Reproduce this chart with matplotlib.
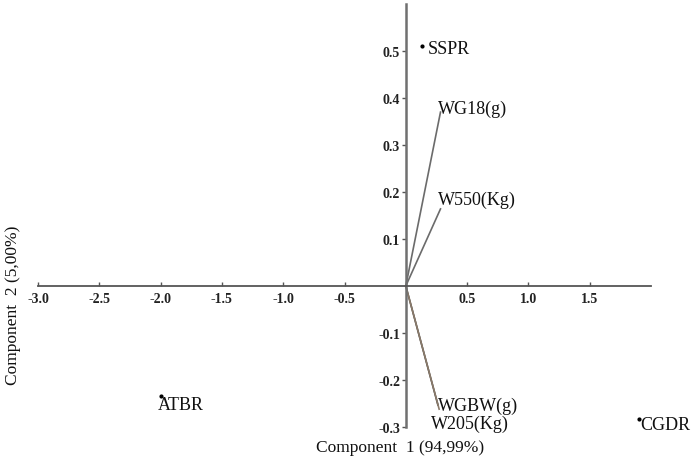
import matplotlib.pyplot as plt

plt.rcParams["font.family"] = ["Liberation Serif", "DejaVu Serif"]

# variable loadings (lines from the origin)
var_names = ["WG18(g)", "W550(Kg)", "WGBW(g)", "W205(Kg)"]
var_x = [0.283, 0.283, 0.262, 0.272]
var_y = [0.370, 0.164, -0.253, -0.262]
var_colors = ["#6b6b6b", "#6b6b6b", "#3a3a3a", "#8a7a6a"]
var_offsets = [(-3, 4), (-3, 10), (0, 0), (-8, -14)]  # pixels

# observation scores (dots)
obs_names = ["SSPR", "ATBR", "CGDR"]
obs_x = [0.136, -2.0, 1.90]
obs_y = [0.511, -0.233, -0.283]
obs_offsets = [(5, -3), (-3, -9), (2, -5)]

x_ticks = [-3.0, -2.5, -2.0, -1.5, -1.0, -0.5, 0.5, 1.0, 1.5]
y_ticks = [-0.3, -0.2, -0.1, 0.1, 0.2, 0.3, 0.4, 0.5]

fig = plt.figure(figsize=(7, 4.64), dpi=100)
ax = fig.add_axes([38 / 700, 36 / 464, 613 / 700, 423 / 464])
ax.set_xlim(-3.0, 2.0)
ax.set_ylim(-0.3, 0.6)

for s in ["top", "right"]:
    ax.spines[s].set_visible(False)
ax.spines["left"].set_position(("data", 0))
ax.spines["bottom"].set_position(("data", 0))
ax.spines["left"].set_color("#707070")
ax.spines["bottom"].set_color("#555555")
ax.spines["left"].set_linewidth(1.8)
ax.spines["bottom"].set_linewidth(1.3)

ax.set_xticks(x_ticks)
ax.set_xticklabels([f"{t:.1f}" for t in x_ticks])
ax.set_yticks(y_ticks)
ax.set_yticklabels([f"{t:.1f}" for t in y_ticks])
ax.tick_params(axis="x", direction="in", length=3, width=1, color="#555555",
               labelsize=10, pad=4)
ax.tick_params(axis="y", direction="out", length=3, width=1, color="#555555",
               labelsize=10, pad=1)
for lab in ax.get_xticklabels() + ax.get_yticklabels():
    lab.set_fontweight("bold")
    lab.set_color("#222222")

px = 0.72  # one pixel in points at dpi 100

for name, x, y, c, (dx, dy) in zip(var_names, var_x, var_y, var_colors, var_offsets):
    ax.plot([0, x], [0, y], color=c, lw=1.2)
    ax.annotate(name, (x, y), xytext=(dx * px, dy * px), textcoords="offset points",
                ha="left", va="center", fontsize=13, color="#111111")

ax.plot(obs_x, obs_y, "o", color="black", markersize=2, linestyle="none")
for name, x, y, (dx, dy) in zip(obs_names, obs_x, obs_y, obs_offsets):
    ax.annotate(name, (x, y), xytext=(dx * px, dy * px), textcoords="offset points",
                ha="left", va="center", fontsize=13, color="#111111")

fig.text(400 / 700, 1 - 448 / 464, "Component  1 (94,99%)", ha="center", va="center",
         fontsize=12.5, color="#111111")
fig.text(13 / 700, 1 - 305 / 464, "Component  2 (5,00%)", ha="center", va="center",
         rotation=90, fontsize=12.5, color="#111111")

fig.savefig("out.png", dpi=100)
